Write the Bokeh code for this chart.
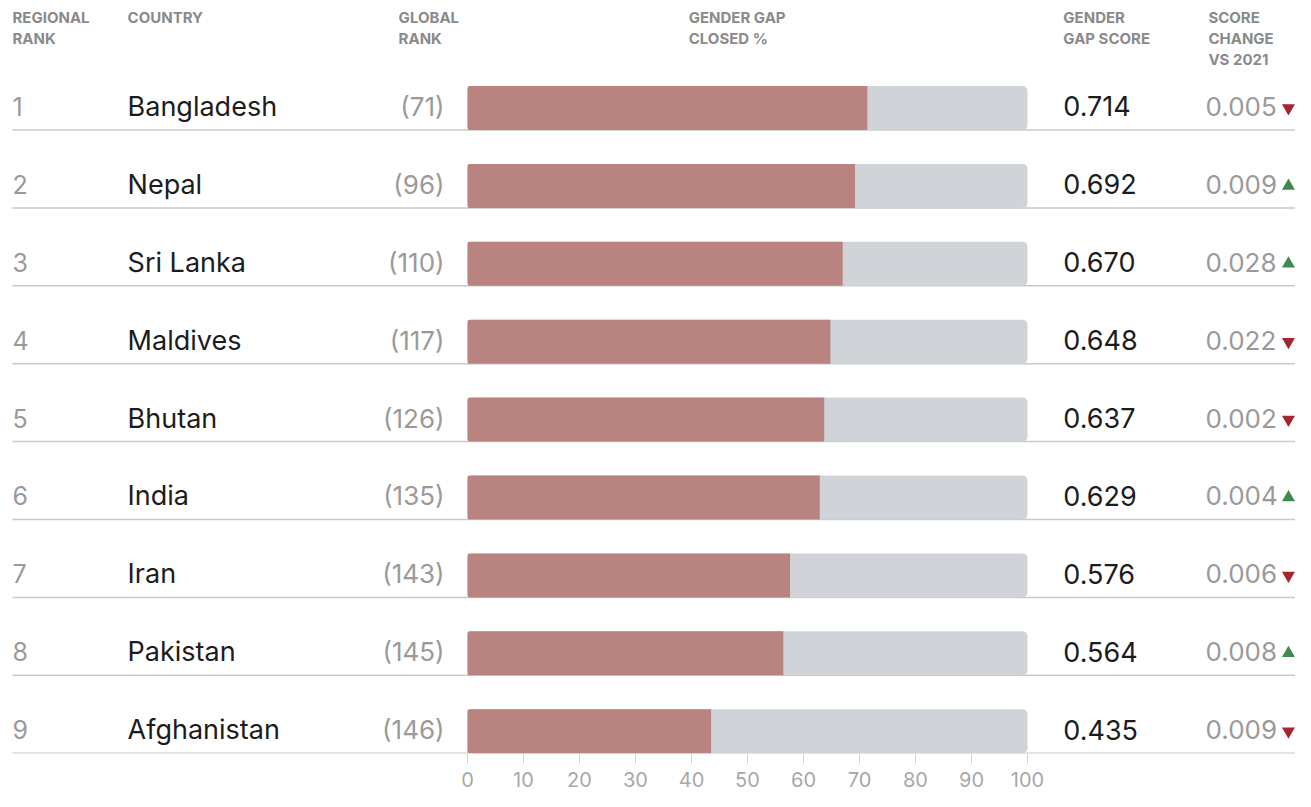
from bokeh.plotting import figure
from bokeh.models import Range1d, ColumnDataSource, FixedTicker
from bokeh.core.properties import value
from bokeh.embed import file_html
from bokeh.resources import INLINE

# ---------------- data ----------------
countries = ["Bangladesh", "Nepal", "Sri Lanka", "Maldives", "Bhutan",
             "India", "Iran", "Pakistan", "Afghanistan"]
regional_rank = [1, 2, 3, 4, 5, 6, 7, 8, 9]
global_rank = [71, 96, 110, 117, 126, 135, 143, 145, 146]
gap_score = [0.714, 0.692, 0.670, 0.648, 0.637, 0.629, 0.576, 0.564, 0.435]
gap_closed_pct = [71.4, 69.2, 67.0, 64.8, 63.7, 62.9, 57.6, 56.4, 43.5]
score_change = [0.005, 0.009, 0.028, 0.022, 0.002, 0.004, 0.006, 0.008, 0.009]
change_direction = ["down", "up", "up", "down", "down", "up", "down", "up", "down"]
axis_ticks = [0, 10, 20, 30, 40, 50, 60, 70, 80, 90, 100]
scale_max = 100

header_labels = ["REGIONAL", "RANK", "COUNTRY", "GLOBAL", "RANK",
                 "GENDER GAP", "CLOSED %", "GENDER", "GAP SCORE",
                 "SCORE", "CHANGE", "VS 2021"]

# ---------------- layout (positions / styles) ----------------
header_x = [-81.25, -81.25, -60.7, -12.3, -12.3, 39.5, 39.5,
            106.4, 106.4, 132.3, 132.3, 132.3]
header_line = [0, 1, 0, 0, 1, 0, 1, 0, 1, 0, 1, 2]
HEADER_Y0 = -0.162
HEADER_DY = 0.27

X_RANK = -81.25
X_COUNTRY = -60.7
X_GLOBAL_RIGHT = -4.1
X_SCORE = 106.4
X_CHANGE = 131.8
X_TRI = 146.6
X_LINE0, X_LINE1 = -81.25, 147.8
BAR_H = 0.565

FONT = value("Inter")
RED = "#b9837f"
GREY_BAR = "#d0d3d7"
DARK = "#1c1c1c"
LIGHT = "#9a9a9a"

rows = regional_rank
src = ColumnDataSource(dict(
    y=rows,
    rank_txt=[str(r) for r in regional_rank],
    country=countries,
    grank=[f"({g})" for g in global_rank],
    pct=gap_closed_pct,
    score=[f"{s:.3f}" for s in gap_score],
    change=[f"{c:.3f}" for c in score_change],
    line_y=[r + BAR_H / 2 for r in rows],
    text_y=[r - 0.02 for r in rows],
))

up_y = [r for r, d in zip(rows, change_direction) if d == "up"]
down_y = [r for r, d in zip(rows, change_direction) if d == "down"]

hdr = ColumnDataSource(dict(
    x=header_x,
    y=[HEADER_Y0 + HEADER_DY * k for k in header_line],
    t=header_labels,
))

p = figure(width=1295, height=791,
           x_range=Range1d(-83.393, 147.857),
           y_range=Range1d(9.286, -0.380),
           output_backend="svg", toolbar_location=None,
           min_border=0, min_border_bottom=38,
           y_axis_location=None, x_axis_location="below")
p.outline_line_color = None
p.xgrid.visible = False
p.ygrid.visible = False
p.background_fill_color = "white"
p.border_fill_color = "white"

# separator lines
p.segment(x0=X_LINE0, x1=X_LINE1, y0="line_y", y1="line_y", source=src,
          line_color="#c9c9c9", line_width=1.5)

# bars
p.hbar(y="y", left=0, right=scale_max, height=BAR_H, source=src,
       fill_color=GREY_BAR, line_color=None, border_radius=5)
p.hbar(y="y", left=0, right="pct", height=BAR_H, source=src,
       fill_color=RED, line_color=None, border_radius=(2, 0, 0, 2))

# row texts
p.text(x=X_RANK, y="text_y", text="rank_txt", source=src,
       text_font=FONT, text_font_size="25px", text_color=LIGHT,
       text_baseline="middle", text_align="left")
p.text(x=X_COUNTRY, y="text_y", text="country", source=src,
       text_font=FONT, text_font_size="27px", text_color=DARK,
       text_baseline="middle", text_align="left")
p.text(x=X_GLOBAL_RIGHT, y="text_y", text="grank", source=src,
       text_font=FONT, text_font_size="26px", text_color=LIGHT,
       text_baseline="middle", text_align="right")
p.text(x=X_SCORE, y="text_y", text="score", source=src,
       text_font=FONT, text_font_size="27px", text_color=DARK,
       text_baseline="middle", text_align="left")
p.text(x=X_CHANGE, y="text_y", text="change", source=src,
       text_font=FONT, text_font_size="26px", text_color=LIGHT,
       text_baseline="middle", text_align="left")

# change arrows
p.scatter(x=X_TRI, y=up_y, marker="triangle", size=13,
          fill_color="#3f8a4c", line_color=None)
p.scatter(x=X_TRI, y=down_y, marker="inverted_triangle", size=13,
          fill_color="#a3262f", line_color=None)

# header
p.text(x="x", y="y", text="t", source=hdr,
       text_font=FONT, text_font_size="15px", text_font_style="bold",
       text_color="#8a8a8a", text_baseline="middle", text_align="left")

# axis
ax = p.xaxis[0]
ax.ticker = FixedTicker(ticks=axis_ticks)
ax.axis_line_color = None
ax.major_tick_line_color = "#d2d2d2"
ax.major_tick_out = 10
ax.major_tick_in = 0
ax.minor_tick_line_color = None
ax.major_label_standoff = 8
ax.major_label_text_font = "Inter"
ax.major_label_text_font_size = "20px"
ax.major_label_text_color = "#a8a8a8"

open("out.html", "w").write(file_html(p, INLINE))
